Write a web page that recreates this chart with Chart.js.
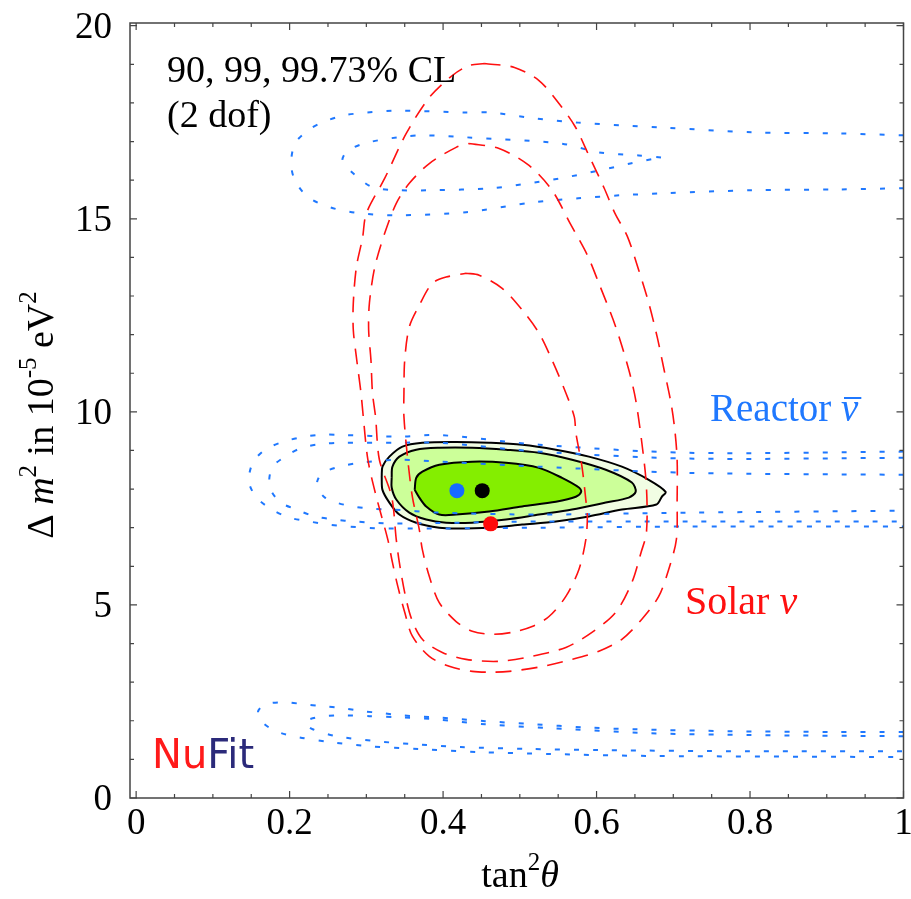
<!DOCTYPE html>
<html>
<head>
<meta charset="utf-8">
<title>Solar and reactor neutrino allowed regions</title>
<script src="https://cdn.jsdelivr.net/npm/chart.js@4.4.1/dist/chart.umd.min.js"></script>
<style>
  html, body { margin: 0; padding: 0; background: #fff; }
  #wrap { position: relative; width: 911px; height: 899px; }
</style>
</head>
<body>
<div id="wrap"><canvas id="chart1"></canvas></div>
<script>
// contour points as [tan^2 theta, dm^2 in 1e-5 eV^2]

// solar neutrino contours (90, 99, 99.73% CL)
const solar90 = [[0.430,13.59],[0.447,13.54],[0.477,13.20],[0.503,12.64],[0.525,12.04],[0.542,11.34],[0.560,10.49],[0.571,9.87],[0.573,9.46],[0.581,8.58],[0.586,7.72],[0.588,7.29],[0.586,6.69],[0.577,5.92],[0.560,5.22],[0.538,4.70],[0.516,4.44],[0.490,4.29],[0.464,4.24],[0.438,4.32],[0.417,4.57],[0.395,5.06],[0.382,5.74],[0.373,6.43],[0.369,6.95],[0.360,7.80],[0.354,8.76],[0.349,9.87],[0.349,10.49],[0.350,11.34],[0.356,12.20],[0.369,12.76],[0.386,13.33],[0.404,13.49],[0.430,13.59]];
const solar99 = [[0.434,16.95],[0.473,16.82],[0.512,16.38],[0.542,15.74],[0.565,14.90],[0.588,14.06],[0.603,13.33],[0.625,12.20],[0.642,11.09],[0.651,10.31],[0.659,9.20],[0.665,8.06],[0.665,6.87],[0.658,6.36],[0.646,5.58],[0.625,4.81],[0.594,4.29],[0.560,3.90],[0.516,3.67],[0.473,3.54],[0.430,3.59],[0.399,3.77],[0.373,4.11],[0.359,4.63],[0.350,5.32],[0.343,6.10],[0.339,6.69],[0.333,7.80],[0.317,8.76],[0.312,9.87],[0.308,10.49],[0.306,11.34],[0.303,12.12],[0.304,12.82],[0.311,13.75],[0.324,14.63],[0.339,15.40],[0.356,15.92],[0.382,16.43],[0.417,16.85],[0.434,16.95]];
const solar997 = [[0.454,19.02],[0.493,18.92],[0.525,18.58],[0.550,18.01],[0.572,17.39],[0.590,16.64],[0.610,15.79],[0.624,15.14],[0.640,14.55],[0.655,13.67],[0.668,12.82],[0.679,11.94],[0.688,11.09],[0.697,10.23],[0.702,9.53],[0.705,8.76],[0.705,7.72],[0.704,6.69],[0.694,5.92],[0.681,5.22],[0.659,4.63],[0.633,4.11],[0.603,3.80],[0.568,3.59],[0.525,3.39],[0.486,3.28],[0.464,3.26],[0.438,3.28],[0.408,3.41],[0.382,3.67],[0.360,4.19],[0.350,4.81],[0.341,5.48],[0.334,6.10],[0.328,6.69],[0.313,7.80],[0.302,8.76],[0.296,9.87],[0.293,10.49],[0.287,11.42],[0.283,12.12],[0.283,12.82],[0.287,13.75],[0.295,14.50],[0.300,15.14],[0.324,16.05],[0.352,17.21],[0.382,18.14],[0.412,18.71],[0.434,18.97],[0.454,19.02]];

// reactor antineutrino contours, upper island
const reacTop99 = [[0.684,16.59],[0.655,16.64],[0.603,16.72],[0.553,16.95],[0.430,17.11],[0.377,17.16],[0.349,17.13],[0.303,16.98],[0.276,16.77],[0.269,16.51],[0.286,16.12],[0.309,15.81],[0.343,15.74],[0.386,15.74],[0.463,15.79],[0.519,15.94],[0.559,16.07],[0.603,16.25],[0.644,16.43],[0.684,16.59]];
const reacTop997 = [[1.0,17.16],[0.915,17.21],[0.802,17.24],[0.689,17.36],[0.632,17.42],[0.576,17.49],[0.519,17.60],[0.463,17.75],[0.430,17.75],[0.343,17.80],[0.300,17.75],[0.269,17.67],[0.242,17.49],[0.224,17.29],[0.207,16.95],[0.202,16.43],[0.207,15.99],[0.224,15.56],[0.252,15.30],[0.293,15.14],[0.343,15.09],[0.430,15.17],[0.519,15.43],[0.576,15.53],[0.632,15.61],[0.689,15.66],[0.802,15.74],[0.915,15.76],[1.0,15.79]];

// reactor, main island
const reacMid90 = [[1.0,8.37],[0.720,8.42],[0.525,8.58],[0.395,8.71],[0.343,8.76],[0.291,8.68],[0.265,8.58],[0.243,8.42],[0.236,8.20],[0.238,7.98],[0.246,7.78],[0.261,7.65],[0.282,7.55],[0.308,7.49],[0.334,7.47],[0.395,7.39],[0.525,7.34],[0.720,7.39],[1.0,7.44]];
const reacMid99 = [[1.0,8.81],[0.720,8.79],[0.525,8.97],[0.395,9.20],[0.343,9.20],[0.268,9.20],[0.242,9.17],[0.216,9.07],[0.194,8.84],[0.177,8.55],[0.174,8.06],[0.187,7.67],[0.209,7.47],[0.233,7.29],[0.259,7.21],[0.285,7.16],[0.334,7.11],[0.525,7.16],[0.720,7.16],[1.0,7.16]];
const reacMid997 = [[1.0,8.97],[0.720,8.94],[0.525,9.15],[0.395,9.40],[0.343,9.36],[0.268,9.40],[0.242,9.41],[0.217,9.35],[0.191,9.22],[0.168,9.02],[0.152,8.68],[0.147,8.19],[0.157,7.78],[0.177,7.47],[0.200,7.26],[0.226,7.16],[0.250,7.08],[0.276,7.03],[0.326,6.98],[0.525,7.00],[0.720,7.03],[1.0,7.03]];

// reactor, lower island
const reacBot99 = [[1.0,1.60],[0.798,1.63],[0.668,1.68],[0.538,1.81],[0.455,1.91],[0.390,2.04],[0.343,2.09],[0.304,2.12],[0.272,2.14],[0.246,2.12],[0.226,2.04],[0.220,1.94],[0.230,1.78],[0.261,1.60],[0.313,1.47],[0.358,1.40],[0.423,1.32],[0.512,1.27],[0.603,1.24],[0.798,1.21],[1.0,1.21]];
const reacBot997 = [[1.0,1.71],[0.904,1.71],[0.775,1.73],[0.648,1.78],[0.583,1.83],[0.519,1.91],[0.455,1.99],[0.390,2.09],[0.346,2.14],[0.320,2.20],[0.294,2.25],[0.268,2.33],[0.243,2.38],[0.217,2.43],[0.195,2.48],[0.169,2.43],[0.159,2.25],[0.163,1.99],[0.182,1.73],[0.213,1.57],[0.252,1.45],[0.304,1.34],[0.369,1.27],[0.447,1.19],[0.538,1.14],[0.668,1.09],[1.0,1.06]];

// combined fit regions
const global90 = [[0.363,7.98],[0.365,8.29],[0.373,8.45],[0.395,8.63],[0.438,8.71],[0.482,8.68],[0.525,8.55],[0.555,8.29],[0.577,8.04],[0.580,7.93],[0.573,7.80],[0.547,7.67],[0.503,7.55],[0.460,7.42],[0.417,7.34],[0.395,7.34],[0.378,7.55],[0.369,7.78],[0.363,7.98]];
const global99 = [[0.333,8.29],[0.334,8.58],[0.343,8.84],[0.365,9.02],[0.395,9.07],[0.438,9.07],[0.482,9.02],[0.525,8.94],[0.568,8.76],[0.612,8.50],[0.646,8.17],[0.651,7.93],[0.642,7.78],[0.612,7.65],[0.568,7.47],[0.525,7.34],[0.482,7.21],[0.438,7.13],[0.404,7.13],[0.378,7.21],[0.356,7.39],[0.339,7.73],[0.333,8.04],[0.333,8.29]];
const global997 = [[0.320,8.32],[0.321,8.58],[0.330,8.84],[0.347,9.10],[0.373,9.20],[0.417,9.22],[0.460,9.20],[0.503,9.15],[0.547,9.02],[0.590,8.84],[0.633,8.58],[0.668,8.24],[0.690,7.93],[0.685,7.80],[0.678,7.60],[0.633,7.47],[0.590,7.29],[0.547,7.16],[0.503,7.08],[0.460,7.00],[0.417,6.98],[0.395,7.00],[0.365,7.13],[0.343,7.34],[0.330,7.65],[0.321,7.98],[0.320,8.32]];

// best fit points: reactor, global, solar
const bestFitX = [0.418, 0.451, 0.462];
const bestFitY = [7.96, 7.96, 7.10];

const xTickValues = [0, 0.2, 0.4, 0.6, 0.8, 1];
const xTickLabels = ['0', '0.2', '0.4', '0.6', '0.8', '1'];
const yTickValues = [0, 5, 10, 15, 20];
const yTickLabels = ['0', '5', '10', '15', '20'];

const SERIF = '"Liberation Serif", "Times New Roman", serif';
const RED = '#ff1010';
const BLUE = '#1f78ff';

function pts(pairs) {
    return pairs.map(p => ({ x: p[0], y: p[1] }));
}

function contour(pairs, color, dash, width, order) {
    return {
        data: pts(pairs), showLine: true, fill: false,
        borderColor: color, borderWidth: width, borderDash: dash, borderCapStyle: 'butt',
        pointRadius: 0, tension: 0.3, order: order
    };
}

function region(pairs, color, order) {
    return {
        data: pts(pairs), showLine: true, fill: 'shape',
        backgroundColor: color, borderColor: '#000', borderWidth: 2,
        pointRadius: 0, tension: 0.3, order: order
    };
}

// draws a row of text pieces with their own fonts; rise lifts superscripts
function drawRuns(ctx, runs, x, y, align) {
    let total = 0;
    runs.forEach(r => {
        ctx.font = r.font;
        r.w = ctx.measureText(r.text).width;
        total += r.w;
    });
    let cx = align === 'center' ? x - total / 2 : x;
    runs.forEach(r => {
        ctx.font = r.font;
        ctx.fillStyle = r.color || '#000';
        r.x0 = cx;
        ctx.fillText(r.text, cx, y - (r.rise || 0));
        cx += r.w;
    });
    return runs;
}

const frameAndText = {
    id: 'frameAndText',
    afterDraw(chart) {
        const { ctx, chartArea: a } = chart;
        const sx = chart.scales.x, sy = chart.scales.y;
        ctx.save();

        // frame with inward ticks on all four sides
        ctx.strokeStyle = '#444';
        ctx.lineWidth = 1.5;
        ctx.strokeRect(a.left, a.top, a.right - a.left, a.bottom - a.top);
        ctx.lineWidth = 1.2;
        ctx.beginPath();
        for (let i = 0; i <= 20; i++) {
            const px = sx.getPixelForValue(i * 0.05);
            const len = i % 4 === 0 ? 7 : 4;
            ctx.moveTo(px, a.bottom); ctx.lineTo(px, a.bottom - len);
            ctx.moveTo(px, a.top); ctx.lineTo(px, a.top + len);
        }
        for (let v = 0; v <= 20; v++) {
            const py = sy.getPixelForValue(v);
            const len = v % 5 === 0 ? 7 : 4;
            ctx.moveTo(a.left, py); ctx.lineTo(a.left + len, py);
            ctx.moveTo(a.right, py); ctx.lineTo(a.right - len, py);
        }
        ctx.stroke();

        // tick labels
        ctx.fillStyle = '#000';
        ctx.font = '37px ' + SERIF;
        ctx.textBaseline = 'alphabetic';
        ctx.textAlign = 'center';
        xTickValues.forEach((v, i) => ctx.fillText(xTickLabels[i], sx.getPixelForValue(v), a.bottom + 36));
        ctx.textAlign = 'right';
        yTickValues.forEach((v, i) => ctx.fillText(yTickLabels[i], a.left - 18, sy.getPixelForValue(v) + 12));
        ctx.textAlign = 'left';

        const big = '38px ' + SERIF;
        const bigIt = 'italic 38px ' + SERIF;
        const small = '25px ' + SERIF;

        // axis titles
        drawRuns(ctx, [
            { text: 'tan', font: big },
            { text: '2', font: small, rise: 17 },
            { text: 'θ', font: bigIt }
        ], 520, 887, 'center');

        ctx.save();
        ctx.translate(53, 415);
        ctx.rotate(-Math.PI / 2);
        drawRuns(ctx, [
            { text: 'Δ ', font: big },
            { text: 'm', font: bigIt },
            { text: '2', font: small, rise: 17 },
            { text: ' in 10', font: big },
            { text: '-5', font: small, rise: 17 },
            { text: ' eV', font: big },
            { text: '2', font: small, rise: 17 }
        ], 0, 0, 'center');
        ctx.restore();

        // annotations
        ctx.font = big;
        ctx.fillStyle = '#000';
        ctx.fillText('90, 99, 99.73% CL', 167, 82);
        ctx.fillText('(2 dof)', 167, 127);

        const reactor = drawRuns(ctx, [
            { text: 'Reactor ', font: '39px ' + SERIF, color: BLUE },
            { text: 'ν', font: 'italic 39px ' + SERIF, color: BLUE }
        ], 710, 421, 'left');
        const nu = reactor[1];
        ctx.strokeStyle = BLUE;
        ctx.lineWidth = 2;
        ctx.beginPath();
        ctx.moveTo(nu.x0 + 3, 398);
        ctx.lineTo(nu.x0 + nu.w + 3, 398);
        ctx.stroke();

        drawRuns(ctx, [
            { text: 'Solar ', font: '40px ' + SERIF, color: RED },
            { text: 'ν', font: 'italic 40px ' + SERIF, color: RED }
        ], 685, 614, 'left');

        drawRuns(ctx, [
            { text: 'Nu', font: '40px "DejaVu Sans", sans-serif', color: '#ff1a1a' },
            { text: 'Fit', font: '40px "DejaVu Sans", sans-serif', color: '#2b2a7a' }
        ], 152, 768, 'left');

        ctx.restore();
    }
};

const bestFit = bestFitX.map((x, i) => ({ x: x, y: bestFitY[i] }));

new Chart(document.getElementById('chart1').getContext('2d'), {
    type: 'scatter',
    data: {
        datasets: [
            {
                data: bestFit, pointRadius: 7.5, pointBorderWidth: 0,
                pointBackgroundColor: ['#176bff', '#000000', '#ff0a0a'], order: 0
            },
            contour(solar90, RED, [16, 10], 1.6, 1),
            contour(solar99, RED, [16, 10], 1.6, 1),
            contour(solar997, RED, [16, 10], 1.6, 1),
            contour(reacTop99, BLUE, [5, 14], 2, 2),
            contour(reacTop997, BLUE, [5, 14], 2, 2),
            contour(reacMid90, BLUE, [5, 14], 2, 2),
            contour(reacMid99, BLUE, [5, 14], 2, 2),
            contour(reacMid997, BLUE, [5, 14], 2, 2),
            contour(reacBot99, BLUE, [5, 14], 2, 2),
            contour(reacBot997, BLUE, [5, 14], 2, 2),
            region(global90, '#84ee00', 3),
            region(global99, '#ccff99', 4),
            region(global997, '#f1fde3', 5)
        ]
    },
    options: {
        responsive: true,
        maintainAspectRatio: false,
        animation: false,
        events: [],
        layout: { padding: { left: 130, right: 6, top: 23, bottom: 101 } },
        plugins: { legend: { display: false }, tooltip: { enabled: false } },
        scales: {
            x: { type: 'linear', min: -0.008, max: 1, display: false },
            y: { type: 'linear', min: 0, max: 20.07, display: false }
        }
    },
    plugins: [frameAndText]
});
</script>
</body>
</html>
